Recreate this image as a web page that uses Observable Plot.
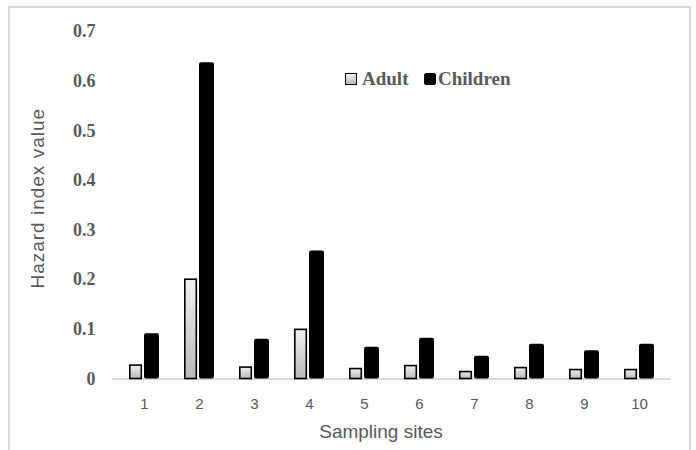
<!DOCTYPE html>
<html>
<head>
<meta charset="utf-8">
<script src="https://cdn.jsdelivr.net/npm/d3@7"></script>
<script src="https://cdn.jsdelivr.net/npm/@observablehq/plot@0.6"></script>
<style>
  html, body { margin: 0; padding: 0; background: #fff; }
  #wrap { position: relative; width: 696px; height: 450px; overflow: hidden; }
  #frame { position: absolute; left: 8px; top: 6px; width: 683px; height: 470px; border: 2px solid #d9d9d9; box-sizing: border-box; pointer-events: none; }
  .sw { position: absolute; width: 12px; height: 12px; box-sizing: border-box; border: 1.5px solid #000; }
  .lt { position: absolute; font-family: "Liberation Serif", "Times New Roman", serif; font-weight: bold; font-size: 19px; line-height: 19px; color: #595959; white-space: nowrap; }
  #wrap svg { position: absolute; left: 0; top: 0; }
</style>
</head>
<body>
<div id="wrap">
  <div id="frame"></div>
</div>
<script>
const sites = ["1", "2", "3", "4", "5", "6", "7", "8", "9", "10"];
const adult = [0.027, 0.200, 0.023, 0.099, 0.020, 0.026, 0.014, 0.022, 0.018, 0.018];
const children = [0.091, 0.637, 0.080, 0.258, 0.064, 0.082, 0.046, 0.070, 0.057, 0.070];
const yTicks = [0, 0.1, 0.2, 0.3, 0.4, 0.5, 0.6, 0.7];
const seriesNames = ["Adult", "Children"];
const xTitle = "Sampling sites";
const yTitle = "Hazard index value";

const adultRows = sites.map((s, i) => ({site: s, value: adult[i]}));
const childRows = sites.map((s, i) => ({site: s, value: children[i]}));

const chart = Plot.plot({
  width: 696,
  height: 450,
  marginLeft: 112,
  marginRight: 25,
  marginTop: 31,
  marginBottom: 71.5,
  style: {fontFamily: "'Liberation Sans', Arial, sans-serif", color: "#595959", background: "transparent", overflow: "visible"},
  x: {domain: sites, paddingInner: 0.454, paddingOuter: 0.227, axis: null},
  y: {domain: [0, 0.7], axis: null},
  marks: [
    Plot.ruleY([0], {stroke: "#d9d9d9", strokeWidth: 2}),
    Plot.barY(adultRows, {x: "site", y: "value", fill: "url(#adultGrad)", stroke: "#000", strokeWidth: 1.6, insetLeft: 0.8, insetRight: 17.7}),
    Plot.barY(childRows, {x: "site", y: "value", fill: "#000", insetLeft: 15, insetRight: 0, rx: 2}),
    Plot.axisY(yTicks, {tickSize: 0, tickPadding: 17, tickFormat: d => d === 0 ? "0" : d.toFixed(1), fontFamily: "'Liberation Serif', 'Times New Roman', serif", fontWeight: "bold", fontSize: 18, label: null}),
    Plot.axisX({tickSize: 0, tickPadding: 19, fontSize: 15, label: null}),
    Plot.text([yTitle], {text: d => d, frameAnchor: "left", textAnchor: "middle", lineAnchor: "middle", rotate: -90, dx: -75, dy: -7, fontSize: 19}),
    Plot.text([xTitle], {text: d => d, frameAnchor: "bottom", textAnchor: "middle", lineAnchor: "middle", dx: -11, dy: 53.4, fontSize: 19})
  ]
});

d3.select(chart).insert("defs", ":first-child").html(
  '<linearGradient id="adultGrad" x1="0" y1="0" x2="0" y2="1">' +
  '<stop offset="0" stop-color="#f0f0f0"/><stop offset="1" stop-color="#b9b9b9"/></linearGradient>'
);
d3.select(chart).selectAll("text").filter(function() { return this.textContent === yTitle; }).style("letter-spacing", "1px");

const wrap = document.getElementById("wrap");
wrap.insertBefore(chart, document.getElementById("frame"));

// legend
const legendItems = [
  {name: seriesNames[0], sx: 345, tx: 362, bg: "linear-gradient(#f0f0f0, #b9b9b9)", radius: "0px"},
  {name: seriesNames[1], sx: 424, tx: 438, bg: "#000", radius: "2px"}
];
legendItems.forEach(it => {
  const sw = document.createElement("div");
  sw.className = "sw";
  sw.style.left = it.sx + "px";
  sw.style.top = "73px";
  sw.style.background = it.bg;
  sw.style.borderRadius = it.radius;
  wrap.appendChild(sw);
  const t = document.createElement("div");
  t.className = "lt";
  t.style.left = it.tx + "px";
  t.style.top = "69px";
  t.textContent = it.name;
  wrap.appendChild(t);
});
</script>
</body>
</html>
